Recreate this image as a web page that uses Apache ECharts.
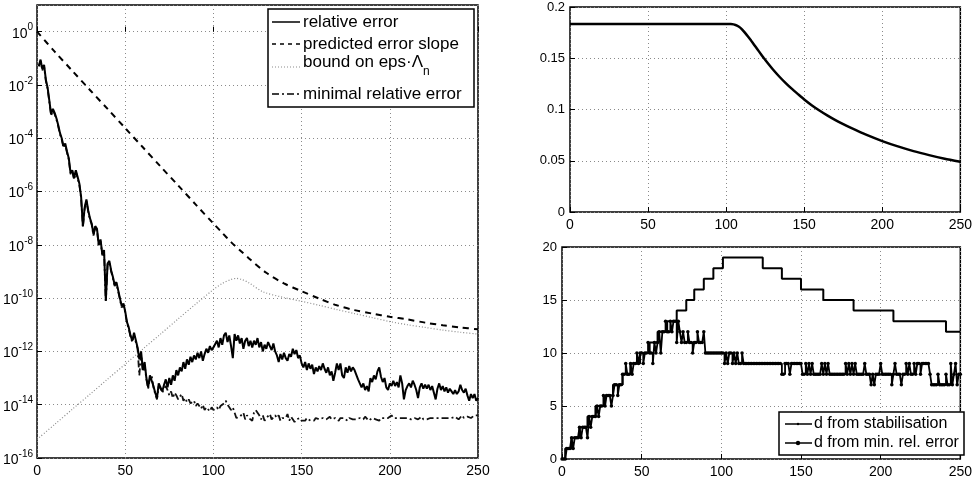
<!DOCTYPE html>
<html lang="en">
<head>
<meta charset="UTF-8" />
<title>relative error and degree d</title>
<script src="https://cdn.jsdelivr.net/npm/echarts@6/dist/echarts.min.js"></script>
<style>
  html, body { margin: 0; padding: 0; background: #fff; }
  #chart { width: 975px; height: 484px; }
</style>
</head>
<body>
<div id="chart"></div>
<script>
// left panel: values are log10 of the errors, n = 1..250
const relErrExp = [
  -1.3,-1.05,-1.4,-1.25,-1.8,-2.1,-2.6,-3.1,-2.9,-3.05,
  -3.25,-3.5,-3.8,-4.0,-4.3,-4.2,-4.5,-4.75,-5.3,-5.2,
  -5.5,-5.2,-5.45,-5.7,-6.2,-7.3,-6.6,-6.3,-6.7,-7.0,
  -7.2,-7.6,-7.3,-7.4,-8.0,-7.8,-8.35,-8.2,-10.1,-8.7,
  -8.6,-8.95,-9.2,-9.5,-9.4,-9.7,-10.0,-10.3,-10.2,-10.5,
  -10.9,-11.1,-11.4,-11.6,-11.3,-11.35,-11.85,-12.3,-12.0,-12.7,
  -12.4,-13.0,-13.35,-12.9,-12.85,-13.3,-13.55,-13.75,-13.2,-13.35,
  -13.5,-13.25,-13.05,-13.35,-13.0,-13.25,-12.9,-13.1,-12.7,-12.9,
  -12.6,-12.75,-12.4,-12.65,-12.3,-12.5,-12.2,-12.4,-12.15,-12.3,
  -12.05,-12.25,-12.0,-12.35,-12.1,-11.9,-12.05,-11.8,-11.95,-11.85,
  -11.85,-11.6,-11.85,-11.5,-11.75,-11.4,-11.3,-11.65,-11.4,-11.8,
  -12.25,-11.35,-11.6,-11.4,-11.7,-11.5,-11.9,-11.6,-11.5,-11.8,
  -11.6,-11.85,-11.6,-11.75,-11.5,-11.85,-11.65,-12.0,-11.75,-11.9,
  -11.65,-11.8,-11.95,-11.7,-12.0,-12.15,-12.4,-12.1,-12.3,-12.05,
  -12.25,-12.35,-12.1,-12.2,-11.9,-12.1,-11.95,-12.25,-12.15,-12.45,
  -12.6,-12.4,-12.7,-12.45,-12.65,-12.5,-12.85,-12.6,-12.75,-12.55,
  -12.7,-12.45,-12.65,-12.8,-12.6,-12.9,-12.75,-13.1,-12.8,-12.45,
  -12.7,-12.45,-12.9,-13.0,-12.6,-12.8,-12.55,-12.75,-12.6,-12.7,
  -12.65,-13.05,-13.2,-13.35,-13.2,-13.45,-13.3,-13.5,-13.0,-13.15,
  -12.9,-13.05,-12.75,-12.6,-12.95,-13.15,-13.0,-13.35,-13.45,-13.2,
  -13.3,-13.1,-13.3,-13.15,-13.35,-12.9,-13.2,-13.8,-13.45,-13.3,
  -13.2,-13.35,-13.1,-13.25,-13.45,-13.75,-13.35,-13.2,-13.4,-13.25,
  -13.4,-13.25,-13.45,-13.3,-13.55,-13.8,-13.4,-13.2,-13.45,-13.3,
  -13.5,-13.35,-13.55,-13.4,-13.5,-13.6,-13.45,-13.6,-13.5,-13.25,
  -13.45,-13.55,-13.4,-13.65,-13.85,-13.6,-13.75,-13.6,-13.85,-13.75
];
const minErrExp = [
  -1.3,-1.1,-1.45,-1.3,-1.85,-2.15,-2.65,-3.15,-2.95,-3.1,
  -3.3,-3.55,-3.85,-4.05,-4.35,-4.25,-4.55,-4.8,-5.35,-5.25,
  -5.55,-5.25,-5.5,-5.75,-6.25,-7.35,-6.65,-6.35,-6.75,-7.05,
  -7.25,-7.65,-7.35,-7.45,-8.05,-7.85,-8.4,-8.25,-10.15,-8.75,
  -8.65,-9.0,-9.25,-9.55,-9.45,-9.75,-10.05,-10.35,-10.25,-10.55,
  -10.95,-11.15,-11.45,-11.65,-11.4,-11.45,-11.9,-12.9,-12.1,-12.75,
  -12.5,-13.05,-13.4,-13.0,-12.9,-13.35,-13.6,-13.8,-13.3,-13.4,
  -13.55,-13.4,-13.3,-13.45,-13.65,-13.5,-13.75,-13.55,-13.65,-13.8,
  -13.7,-13.6,-13.85,-13.75,-13.9,-13.8,-13.95,-14.0,-13.85,-14.05,
  -13.95,-14.05,-14.15,-14.0,-14.2,-14.1,-14.05,-14.25,-14.1,-14.2,
  -14.25,-14.1,-14.2,-14.05,-14.0,-13.95,-13.85,-14.0,-14.1,-14.2,
  -14.1,-14.3,-14.5,-14.55,-14.45,-14.5,-14.3,-14.55,-14.4,-14.5,
  -14.45,-14.6,-14.3,-14.2,-14.15,-14.4,-14.55,-14.4,-14.6,-14.5,
  -14.45,-14.35,-14.55,-14.5,-14.4,-14.5,-14.4,-14.6,-14.5,-14.45,
  -14.5,-14.35,-14.6,-14.45,-14.55,-14.65,-14.55,-14.6,-14.5,-14.6,
  -14.55,-14.6,-14.5,-14.45,-14.6,-14.55,-14.6,-14.5,-14.45,-14.55,
  -14.6,-14.5,-14.45,-14.55,-14.5,-14.45,-14.55,-14.6,-14.5,-14.55,
  -14.6,-14.5,-14.45,-14.5,-14.55,-14.6,-14.5,-14.45,-14.55,-14.5,
  -14.55,-14.6,-14.5,-14.5,-14.55,-14.45,-14.5,-14.6,-14.55,-14.5,
  -14.45,-14.55,-14.5,-14.6,-14.5,-14.45,-14.5,-14.55,-14.5,-14.45,
  -14.4,-14.5,-14.55,-14.5,-14.45,-14.5,-14.55,-14.5,-14.55,-14.5,
  -14.45,-14.55,-14.6,-14.5,-14.5,-14.55,-14.5,-14.45,-14.55,-14.5,
  -14.55,-14.5,-14.5,-14.55,-14.5,-14.45,-14.5,-14.55,-14.5,-14.55,
  -14.5,-14.45,-14.5,-14.55,-14.5,-14.5,-14.45,-14.5,-14.55,-14.5,
  -14.4,-14.5,-14.55,-14.45,-14.4,-14.5,-14.45,-14.4,-14.45,-14.4
];
const predN   = [0, 10, 20, 30, 40, 50, 60, 70, 80, 90, 100, 105, 110, 115, 120, 130, 140, 150, 160, 170, 180, 190, 200, 210, 220, 230, 240, 250];
const predExp = [0, -0.75, -1.47, -2.19, -2.9, -3.62, -4.34, -5.06, -5.77, -6.49, -7.2, -7.55, -7.9, -8.2, -8.5, -9.05, -9.45, -9.74, -10.02, -10.27, -10.45, -10.58, -10.7, -10.8, -10.92, -11.02, -11.1, -11.17];
const boundN   = [0, 10, 20, 30, 40, 50, 60, 70, 80, 90, 100, 105, 110, 113, 116, 120, 128, 140, 150, 160, 170, 180, 190, 200, 210, 220, 230, 240, 250];
const boundExp = [-15.3, -14.74, -14.17, -13.61, -13.04, -12.48, -11.91, -11.35, -10.78, -10.22, -9.68, -9.45, -9.3, -9.26, -9.3, -9.42, -9.76, -9.98, -10.12, -10.27, -10.43, -10.58, -10.73, -10.88, -11.0, -11.1, -11.2, -11.28, -11.35];
const expTicks = [-16, -14, -12, -10, -8, -6, -4, -2, 0];

// right top panel
const rateN   = [0, 100, 103, 106, 108, 110, 112, 114, 116, 118, 120, 122, 124, 127, 130, 134, 138, 142, 146, 150, 155, 160, 165, 170, 175, 180, 190, 200, 210, 220, 230, 240, 250];
const rateVal = [0.1835, 0.1835, 0.1833, 0.1825, 0.181, 0.1785, 0.175, 0.1712, 0.1672, 0.163, 0.1588, 0.1546, 0.1505, 0.1446, 0.139, 0.1322, 0.126, 0.1203, 0.115, 0.1098, 0.104, 0.0988, 0.094, 0.0897, 0.0857, 0.082, 0.0752, 0.0692, 0.064, 0.0594, 0.0555, 0.052, 0.049];

// right bottom panel: d from stabilisation (change points) and d from min. rel. error (n = 0..250)
const stabN = [0, 2, 6, 11, 16, 21, 27, 32, 38, 43, 49, 55, 60, 66, 72, 78, 83, 89, 95, 101, 126, 138, 150, 164, 183, 208, 241, 250];
const stabD = [0, 1, 2, 3, 4, 5, 6, 7, 8, 9, 10, 11, 12, 13, 14, 15, 16, 17, 18, 19, 18, 17, 16, 15, 14, 13, 12, 12];
const minD = [
  0,0,0,1,1,1,2,1,2,2,
  2,3,2,3,3,3,2,4,3,4,
  4,4,5,4,5,5,6,5,6,6,
  6,5,6,7,7,6,7,7,8,8,
  9,8,8,9,8,9,9,10,9,10,
  10,9,10,10,11,10,10,9,11,10,
  11,12,10,12,12,13,12,12,13,12,
  13,13,11,13,12,11,12,11,11,12,
  11,11,10,11,11,12,11,11,11,12,
  10,10,10,10,10,10,10,10,10,10,
  10,10,9,10,9,10,10,9,10,9,
  10,9,9,10,9,9,9,9,9,9,
  9,9,9,9,9,9,9,9,9,9,
  9,9,9,9,9,9,9,9,8,8,
  9,9,9,8,9,9,9,9,9,9,
  9,8,8,9,8,9,8,9,8,8,
  8,8,8,9,8,9,8,9,8,8,
  8,8,8,8,8,8,8,8,9,8,
  9,8,9,8,9,8,8,8,8,8,
  9,8,8,8,7,8,7,8,8,8,
  9,8,8,8,8,8,8,7,8,9,
  8,8,8,7,8,8,9,8,9,8,
  8,9,8,9,9,8,9,9,9,9,
  9,8,7,7,7,7,8,7,7,7,
  7,8,7,7,9,7,8,9,7,8,
  8
];

const FONT = 'Liberation Sans, Arial, Helvetica, sans-serif';
const grids = [
  { left: 37, top: 5, width: 441, height: 453 },
  { left: 570, top: 7, width: 397, height: 205 },
  { left: 562, top: 247, width: 405, height: 212 }
];
grids.forEach(g => Object.assign(g, { show: true, borderColor: '#000', borderWidth: 1.5, backgroundColor: '#fff' }));

const split = { show: true, lineStyle: { type: [1, 3], color: '#8a8a8a', width: 1 } };
const tick = { show: true, inside: true, length: 5, lineStyle: { color: '#000' } };

function xAx(gi) {
  return {
    type: 'value', gridIndex: gi, min: 0, max: 250, interval: 50,
    axisLine: { show: false }, axisTick: tick, splitLine: split,
    axisLabel: { color: '#000', fontSize: 14, fontFamily: FONT, margin: 6 }
  };
}

const pairs = (xs, ys) => xs.map((x, i) => [x, ys[i]]);

const option = {
  animation: false,
  grid: grids,
  xAxis: [xAx(0), xAx(1), xAx(2)],
  yAxis: [
    {
      type: 'value', gridIndex: 0, min: -16, max: 1, interval: 2,
      axisLine: { show: false }, axisTick: tick,
      splitLine: split,
      axisLabel: {
        color: '#000', fontFamily: FONT, margin: 4, showMaxLabel: false,
        formatter: v => expTicks.includes(v) ? '{b|10}{s|' + v + '}' : '',
        rich: {
          b: { fontSize: 14, fontFamily: FONT, color: '#000', lineHeight: 18, verticalAlign: 'bottom' },
          s: { fontSize: 10, fontFamily: FONT, color: '#000', lineHeight: 18, verticalAlign: 'top' }
        }
      }
    },
    {
      type: 'value', gridIndex: 1, min: 0, max: 0.2, interval: 0.05,
      axisLine: { show: false }, axisTick: tick, splitLine: split,
      axisLabel: { color: '#000', fontSize: 13, fontFamily: FONT, margin: 5 }
    },
    {
      type: 'value', gridIndex: 2, min: 0, max: 20, interval: 5,
      axisLine: { show: false }, axisTick: tick, splitLine: split,
      axisLabel: { color: '#000', fontSize: 13, fontFamily: FONT, margin: 5 }
    }
  ],
  series: [
    {
      name: 'bound on eps·Λn', type: 'line', xAxisIndex: 0, yAxisIndex: 0,
      data: pairs(boundN, boundExp), smooth: 0.3, showSymbol: false,
      lineStyle: { color: '#8c8c8c', width: 1.2, type: [1, 2] }
    },
    {
      name: 'predicted error slope', type: 'line', xAxisIndex: 0, yAxisIndex: 0,
      data: pairs(predN, predExp), smooth: 0.3, showSymbol: false,
      lineStyle: { color: '#000', width: 2, type: [6, 5] }
    },
    {
      name: 'minimal relative error', type: 'line', xAxisIndex: 0, yAxisIndex: 0,
      data: minErrExp.map((v, i) => [i + 1, v]), showSymbol: false,
      lineStyle: { color: '#111', width: 1.8, type: [7, 3, 2, 3] }
    },
    {
      name: 'relative error', type: 'line', xAxisIndex: 0, yAxisIndex: 0,
      data: relErrExp.map((v, i) => [i + 1, v]), showSymbol: false,
      lineStyle: { color: '#000', width: 2 }
    },
    {
      type: 'line', xAxisIndex: 1, yAxisIndex: 1,
      data: pairs(rateN, rateVal), smooth: 0.2, showSymbol: false,
      lineStyle: { color: '#000', width: 2.5 }
    },
    {
      name: 'd from stabilisation', type: 'line', xAxisIndex: 2, yAxisIndex: 2,
      data: pairs(stabN, stabD), step: 'end', showSymbol: false,
      lineStyle: { color: '#000', width: 2 }
    },
    {
      name: 'd from min. rel. error', type: 'line', xAxisIndex: 2, yAxisIndex: 2,
      data: minD.map((v, i) => [i, v]), step: 'end',
      symbol: 'circle', symbolSize: 3.5,
      itemStyle: { color: '#000' },
      lineStyle: { color: '#000', width: 1.8 }
    }
  ],
  graphic: [
    // left legend
    { type: 'rect', z: 100, shape: { x: 268, y: 9, width: 206, height: 98 },
      style: { fill: '#fff', stroke: '#000', lineWidth: 1.5 } },
    { type: 'line', z: 101, shape: { x1: 272, y1: 22, x2: 300, y2: 22 }, style: { stroke: '#000', lineWidth: 1.5 } },
    { type: 'text', z: 101, x: 303, y: 22, style: { text: 'relative error', fontSize: 17, fontFamily: FONT, fill: '#000', verticalAlign: 'middle' } },
    { type: 'line', z: 101, shape: { x1: 272, y1: 44, x2: 300, y2: 44 }, style: { stroke: '#000', lineWidth: 1.5, lineDash: [4, 4] } },
    { type: 'text', z: 101, x: 303, y: 44, style: { text: 'predicted error slope', fontSize: 17, fontFamily: FONT, fill: '#000', verticalAlign: 'middle' } },
    { type: 'line', z: 101, shape: { x1: 272, y1: 67, x2: 300, y2: 67 }, style: { stroke: '#8c8c8c', lineWidth: 1.2, lineDash: [1, 2] } },
    { type: 'text', z: 101, x: 303, y: 54, style: {
      text: '{a|bound on eps·Λ}{s|n}', fill: '#000', verticalAlign: 'top',
      rich: {
        a: { fontSize: 17, fontFamily: FONT, lineHeight: 24, verticalAlign: 'top' },
        s: { fontSize: 12, fontFamily: FONT, lineHeight: 24, verticalAlign: 'bottom' }
      } } },
    { type: 'line', z: 101, shape: { x1: 272, y1: 94, x2: 300, y2: 94 }, style: { stroke: '#000', lineWidth: 1.5, lineDash: [7, 3, 2, 3] } },
    { type: 'text', z: 101, x: 303, y: 94, style: { text: 'minimal relative error', fontSize: 17, fontFamily: FONT, fill: '#000', verticalAlign: 'middle' } },
    // right bottom legend
    { type: 'rect', z: 100, shape: { x: 779, y: 412, width: 185, height: 43 },
      style: { fill: '#fff', stroke: '#000', lineWidth: 1.5 } },
    { type: 'line', z: 101, shape: { x1: 785, y1: 424, x2: 812, y2: 424 }, style: { stroke: '#000', lineWidth: 1.5 } },
    { type: 'circle', z: 101, shape: { cx: 798, cy: 424, r: 1.2 }, style: { fill: '#000' } },
    { type: 'text', z: 101, x: 814, y: 424, style: { text: 'd from stabilisation', fontSize: 16, fontFamily: FONT, fill: '#000', verticalAlign: 'middle' } },
    { type: 'line', z: 101, shape: { x1: 785, y1: 443, x2: 812, y2: 443 }, style: { stroke: '#000', lineWidth: 1.5 } },
    { type: 'circle', z: 101, shape: { cx: 798, cy: 443, r: 2.2 }, style: { fill: '#000' } },
    { type: 'text', z: 101, x: 814, y: 443, style: { text: 'd from min. rel. error', fontSize: 16, fontFamily: FONT, fill: '#000', verticalAlign: 'middle' } }
  ]
};

const chart = echarts.init(document.getElementById('chart'), null, { renderer: 'canvas' });
chart.setOption(option);
</script>
</body>
</html>
